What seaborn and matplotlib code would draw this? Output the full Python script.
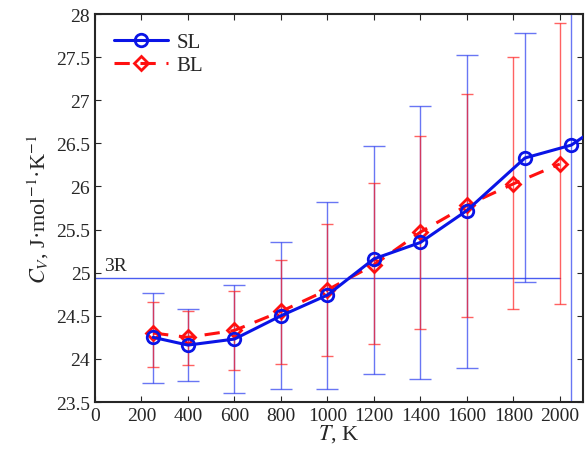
import numpy as np
import pandas as pd
import seaborn as sns
import matplotlib.pyplot as plt
from matplotlib.ticker import FormatStrFormatter, MultipleLocator

# SL series (last point lies beyond the right edge, only its line segment shows)
sl_T = [250, 400, 600, 800, 1000, 1200, 1400, 1600, 1850, 2050, 2250]
sl_cv = [24.25, 24.16, 24.23, 24.50, 24.74, 25.16, 25.35, 25.72, 26.33, 26.48, 26.85]
sl_lo = [23.72, 23.74, 23.60, 23.65, 23.65, 23.83, 23.77, 23.90, 24.89, 21.50, np.nan]
sl_hi = [24.77, 24.58, 24.86, 25.36, 25.82, 26.47, 26.93, 27.53, 27.78, 31.50, np.nan]

# BL series
bl_T = [250, 400, 600, 800, 1000, 1200, 1400, 1600, 1800, 2000]
bl_cv = [24.30, 24.25, 24.33, 24.55, 24.80, 25.09, 25.47, 25.78, 26.03, 26.26]
bl_lo = [23.91, 23.93, 23.87, 23.94, 24.03, 24.17, 24.35, 24.49, 24.58, 24.64]
bl_hi = [24.66, 24.55, 24.79, 25.15, 25.57, 26.04, 26.58, 27.07, 27.50, 27.90]

R3 = 24.94
R3_T = [0, 2000]

sns.set_style("ticks")
plt.rcParams['font.family'] = ['Liberation Serif', 'DejaVu Serif']
plt.rcParams['mathtext.fontset'] = 'stix'
plt.rcParams['xtick.direction'] = 'in'
plt.rcParams['ytick.direction'] = 'in'
plt.rcParams['xtick.top'] = True
plt.rcParams['ytick.right'] = True

sl = pd.DataFrame({'T': sl_T, 'cv': sl_cv, 'lo': sl_lo, 'hi': sl_hi})
bl = pd.DataFrame({'T': bl_T, 'cv': bl_cv, 'lo': bl_lo, 'hi': bl_hi})
sl_err = sl.dropna()

fig = plt.figure(figsize=(5.88, 4.52), dpi=100)
ax = fig.add_axes([0.1616, 0.1084, 0.8299, 0.8584])

# reference line 3R
ax.plot(R3_T, [R3, R3], color='#4a5cf0', lw=1.0, zorder=1)
ax.text(40, R3 + 0.05, '3R', fontsize=14, ha='left', va='bottom')

# error bars
ax.errorbar(sl_err['T'], sl_err['cv'], yerr=[sl_err['cv'] - sl_err['lo'], sl_err['hi'] - sl_err['cv']],
            fmt='none', ecolor='#2a3cf0', elinewidth=1.0, capsize=8, capthick=1.0, alpha=0.7, zorder=2)
ax.errorbar(bl['T'], bl['cv'], yerr=[bl['cv'] - bl['lo'], bl['hi'] - bl['cv']],
            fmt='none', ecolor='#ff2020', elinewidth=1.0, capsize=4, capthick=1.0, alpha=0.7, zorder=2)

sns.lineplot(data=sl, x='T', y='cv', ax=ax, color='#0a14e6', lw=2.2, marker='o', markersize=9,
             markerfacecolor='none', markeredgecolor='#0a14e6', markeredgewidth=2, label='SL',
             zorder=4)
sns.lineplot(data=bl, x='T', y='cv', ax=ax, color='#ff1010', lw=2.2, marker='D', markersize=7.5,
             markerfacecolor='none', markeredgecolor='#ff1010', markeredgewidth=2, label='BL',
             zorder=3)
ax.lines[-1].set_dashes([5, 3.5])

ax.set_xlim(0, 2100)
ax.set_ylim(23.5, 28)
ax.xaxis.set_major_locator(MultipleLocator(200))
ax.yaxis.set_major_locator(MultipleLocator(0.5))
ax.yaxis.set_major_formatter(FormatStrFormatter('%g'))
ax.tick_params(labelsize=14, length=4, width=0.8)
for s in ax.spines.values():
    s.set_linewidth(1.5)

ax.set_xlabel('$T$, K', fontsize=16, labelpad=-1)
ax.set_ylabel('$C_V$, J·mol$^{-1}$·K$^{-1}$', fontsize=16, labelpad=4)

leg = ax.legend(loc='upper left', fontsize=15, frameon=True, handlelength=2.6,
                borderpad=0.4, labelspacing=0.15, handletextpad=0.4, fancybox=False)
leg.get_frame().set_edgecolor('white')
leg.get_frame().set_alpha(1)

fig.savefig('out.png', dpi=100)
